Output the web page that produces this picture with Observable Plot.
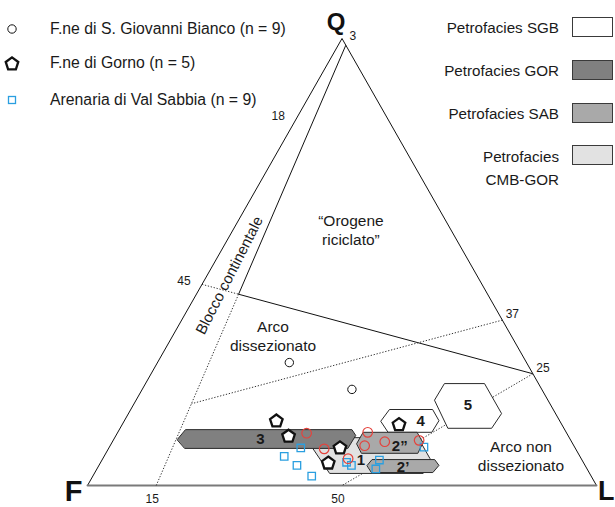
<!DOCTYPE html>
<html><head><meta charset="utf-8">
<script src="https://cdn.jsdelivr.net/npm/d3@7"></script>
<script src="https://cdn.jsdelivr.net/npm/@observablehq/plot@0.6"></script>
<style>
body{margin:0;background:#fff;font-family:"Liberation Sans",Arial,sans-serif;}
#wrap{position:relative;width:615px;height:507px;overflow:hidden;background:#fff}
#chart{position:absolute;left:0;top:0}
.lt{position:absolute;left:50px;font-size:15.8px;line-height:18px;color:#1a1a1a;white-space:nowrap}
.rt{position:absolute;right:56px;font-size:15.2px;line-height:23px;color:#1a1a1a;white-space:nowrap;text-align:right}
.box{position:absolute;left:572px;width:41px;height:20px;border:1px solid #3a3a3a;box-sizing:border-box}
#legsym{position:absolute;left:0;top:0}
</style></head>
<body><div id="wrap"><div id="chart"></div>
<svg id="legsym" width="40" height="120"></svg>
</div>
<script>
// ---- data (ternary percentages [Q, F, L]) ----
const vertices = [["Q",100,0,0],["F",0,100,0],["L",0,0,100]];

// field boundaries
const bndA = [98.5, 0, 1.5];   // continental block line, top end
const bndB = [0, 86.5, 13.5];  // continental block line, base end
const bndD = [45, 55, 0];      // arc / orogen line, F-Q end
const bndE = [25, 0, 75];      // arc / orogen line, Q-L end
const bndG = [37, 0, 63];      // dotted line from 37
const bndH = [18.3, 70.4, 11.3];
const bndI = [0, 50, 50];      // dotted line 25 -> 50

// samples
const sgbBlack = [[27.5,46.6,25.9],[21.5,37.3,41.2]];
const sgbRed = [[11.7,51.1,37.2],[8.2,49.4,42.4],[6.0,45.8,48.2],[11.9,39.0,49.1],[8.9,41.1,50.0],[9.8,36.7,53.5],[10.1,29.8,60.1]];
const gorno = [[14.4,55.7,29.9],[11.0,55.0,34.0],[8.4,46.2,45.4],[5.0,50.2,44.8],[13.6,32.0,54.4]];
const valSabbia = [[8.4,53.9,37.7],[6.5,58.1,35.4],[4.5,56.6,38.9],[2.1,54.9,43.0],[5.2,46.5,48.3],[4.5,45.9,49.6],[5.7,39.8,54.5],[3.7,41.5,54.8],[8.6,29.6,61.8]];

// petrofacies fields
const polyCMB = [[8.3,51.5,40.2],[10.7,46.0,43.3],[10.7,29.7,59.6],[6.0,29.7,64.3],[2.7,32.7,64.6],[2.7,51.0,46.3]];
const polyGOR = [[10.3,77.2,12.5],[12.5,74.5,13.0],[12.5,41.8,45.7],[11.2,41.7,47.1],[8.3,44.7,47.0],[8.3,76.7,15.0]];
const polySAB2pp = [[9.4,42.4,48.2],[11.9,39.9,48.2],[11.9,29.3,58.8],[9.6,29.3,61.1],[7.2,31.5,61.3],[7.2,42.5,50.3]];
const polySAB2p = [[4.5,42.8,52.7],[5.8,41.2,53.0],[5.8,28.9,65.3],[4.5,28.7,66.8],[2.9,30.7,66.4],[2.9,42.7,54.4]];
const polySGB4 = [[17.0,32.1,50.9],[17.0,23.7,59.3],[14.5,23.7,61.8],[11.9,26.4,61.7],[11.9,35.0,53.1],[14.3,35.2,50.5]];
const polySGB5 = [[22.8,18.4,58.8],[22.8,10.6,66.6],[16.1,10.6,73.3],[12.8,14.2,73.0],[12.8,22.8,64.4],[19.0,22.3,58.7]];

const fieldLabels = ["3","1","2”","2’","4","5"];
const fieldLabelPos = [[10.3,60.9,28.8],[5.6,43.5,50.9],[8.7,34.3,57.0],[4.0,36.0,60.0],[14.3,27.4,58.3],[17.9,16.3,65.8]];

const regionLabels = ["“Orogene\nriciclato”","Arco\ndissezionato","Arco non\ndissezionato"];
const regionPos = [[57.3,19.6,23.1],[33.5,46.8,19.7],[6.7,11.5,81.8]];
const rotLabel = "Blocco continentale";
const rotPos = [47.0,48.6,4.4];

const leftTicks = [["18",82,18,0],["45",45,55,0]];
const rightTicks = [["37",37,0,63],["25",25,0,75]];
const baseTicks = [["15",0,86.5,13.5],["50",0,50,50]];
const apexTick = [["3",98.5,0,1.5]];

const legendSamples = ["F.ne di S. Giovanni Bianco (n = 9)","F.ne di Gorno (n = 5)","Arenaria di Val Sabbia (n = 9)"];
const legendFacies = ["Petrofacies SGB","Petrofacies GOR","Petrofacies SAB","Petrofacies\nCMB-GOR"];
const faciesColors = ["#ffffff","#808080","#a9a9a9","#e2e2e2"];

// ---- helpers ----
const T = ([Q,F,L]) => ({Q,F,L});
const tx = d => d.L/100 + d.Q/200;
const ty = d => d.Q/100;
const P = a => ({x: tx(T(a)), y: ty(T(a))});
function intersect(a,b,c,d){
  const p=P(a),q=P(b),r=P(c),s=P(d);
  const den=(p.x-q.x)*(r.y-s.y)-(p.y-q.y)*(r.x-s.x);
  const t=((p.x-r.x)*(r.y-s.y)-(p.y-r.y)*(r.x-s.x))/den;
  return {x:p.x+t*(q.x-p.x), y:p.y+t*(q.y-p.y)};
}
const C = intersect(bndA,bndB,bndD,bndE);
const seg = (a,b) => ({x1:a.x,y1:a.y,x2:b.x,y2:b.y});
const solidSegs = [seg(P(bndA),C), seg(C,P(bndE))];
const dottedSegs = [seg(C,P(bndB)), seg(P(bndD),C), seg(P(bndG),P(bndH)), seg(P(bndE),P(bndI))];

const pentagon = {draw(ctx,size){
  const R = Math.sqrt(size/Math.PI);
  for(let i=0;i<5;i++){const a=-Math.PI/2+i*2*Math.PI/5;const x=R*Math.cos(a),y=R*Math.sin(a);i?ctx.lineTo(x,y):ctx.moveTo(x,y);}
  ctx.closePath();
}};

const polyMark = (poly, fill) => Plot.line(poly.map(T), {x:tx, y:ty, curve:"linear-closed", fill, stroke:"#2a2a2a", strokeWidth:1});
const ff = '"Liberation Sans", Arial, sans-serif';
const tk = (arr) => arr.map(([label,Q,F,L])=>({label,Q,F,L}));

const vt = vertices.map(([name,Q,F,L])=>({name,Q,F,L}));
const byName = n => vt.filter(d=>d.name===n);

const chart = Plot.plot({
  width:615, height:507, margin:0,
  x:{domain:[0,1], range:[87,596], axis:null},
  y:{domain:[0,1], range:[485,38], axis:null},
  style:{fontFamily:ff, background:"transparent", overflow:"visible"},
  marks:[
    Plot.line([byName("F")[0],byName("Q")[0],byName("L")[0]], {x:tx,y:ty,stroke:"#111",strokeWidth:1}),
    Plot.line([byName("F")[0],byName("L")[0]], {x:tx,y:ty,stroke:"#7a7a7a",strokeWidth:2}),
    Plot.link(solidSegs, {x1:"x1",y1:"y1",x2:"x2",y2:"y2",stroke:"#111",strokeWidth:1}),
    Plot.link(dottedSegs, {x1:"x1",y1:"y1",x2:"x2",y2:"y2",stroke:"#333",strokeWidth:1,strokeDasharray:"1.3,1.7"}),
    polyMark(polyCMB, faciesColors[3]),
    polyMark(polyGOR, faciesColors[1]),
    polyMark(polySGB4, faciesColors[0]),
    polyMark(polySAB2pp, faciesColors[2]),
    polyMark(polySAB2p, faciesColors[2]),
    polyMark(polySGB5, faciesColors[0]),
    Plot.text(fieldLabels.map((t,i)=>({t,...T(fieldLabelPos[i])})), {x:tx,y:ty,text:"t",fontSize:15,fontWeight:"bold",fill:"#1a1a1a"}),
    Plot.dot(valSabbia.map(T), {x:tx,y:ty,symbol:"square",r:4.2,stroke:"#2a9fe0",fill:"none",strokeWidth:1.3}),
    Plot.dot(sgbRed.map(T), {x:tx,y:ty,r:4.8,stroke:"#e4423c",fill:"none",strokeWidth:1.2}),
    Plot.dot(sgbBlack.map(T), {x:tx,y:ty,r:4.2,stroke:"#111",fill:"white",strokeWidth:1}),
    Plot.dot(gorno.map(T), {x:tx,y:ty,symbol:pentagon,r:6.6,stroke:"#111",fill:"white",strokeWidth:2.3}),
    Plot.text(regionLabels.map((t,i)=>({t,...T(regionPos[i])})), {x:tx,y:ty,text:"t",fontSize:15.5,lineHeight:1.22,fill:"#1a1a1a"}),
    Plot.text([{t:rotLabel,...T(rotPos)}], {x:tx,y:ty,text:"t",fontSize:15,rotate:-63,fill:"#1a1a1a"}),
    Plot.text(tk(leftTicks), {x:tx,y:ty,text:"label",fontSize:12,dx:-18,dy:-3,fill:"#1a1a1a"}),
    Plot.text(tk(rightTicks), {x:tx,y:ty,text:"label",fontSize:12,dx:10,dy:-6,fill:"#1a1a1a"}),
    Plot.text(tk(baseTicks), {x:tx,y:ty,text:"label",fontSize:12,dx:-4,dy:14,fill:"#1a1a1a"}),
    Plot.text(tk(apexTick), {x:tx,y:ty,text:"label",fontSize:12,dx:7,dy:-9,fill:"#1a1a1a"}),
    Plot.text(byName("Q"), {x:tx,y:ty,text:"name",fontSize:24,fontWeight:"bold",dx:-6,dy:-16,fill:"#111"}),
    Plot.text(byName("F"), {x:tx,y:ty,text:"name",fontSize:29,fontWeight:"bold",textAnchor:"end",dx:-5,dy:6,fill:"#111"}),
    Plot.text(byName("L"), {x:tx,y:ty,text:"name",fontSize:27,fontWeight:"bold",textAnchor:"end",dx:18,dy:6,fill:"#111"})
  ]
});
document.getElementById("chart").appendChild(chart);

// ---- legends (HTML overlay) ----
const wrap = document.getElementById("wrap");
const leftCenters = [29,63,100];
legendSamples.forEach((t,i)=>{
  const d=document.createElement("div"); d.className="lt"; d.textContent=t;
  d.style.top=(leftCenters[i]-9)+"px"; wrap.appendChild(d);
});
const sym = d3.select("#legsym");
sym.append("circle").attr("cx",12).attr("cy",29).attr("r",4.2).attr("fill","white").attr("stroke","#111");
const pent = d3.path(); pentagon.draw(pent, Math.PI*6.6*6.6);
sym.append("path").attr("d",pent.toString()).attr("transform","translate(12,64)").attr("fill","white").attr("stroke","#111").attr("stroke-width",2.3);
sym.append("rect").attr("x",8.5).attr("y",96.5).attr("width",7).attr("height",7).attr("fill","none").attr("stroke","#2a9fe0").attr("stroke-width",1.3);

const rightCenters = [27,70,113,168];
legendFacies.forEach((t,i)=>{
  const lines=t.split("\n");
  const d=document.createElement("div"); d.className="rt";
  d.innerHTML=lines.join("<br>");
  d.style.top=(rightCenters[i]-lines.length*23/2)+"px"; wrap.appendChild(d);
  const b=document.createElement("div"); b.className="box"; b.style.background=faciesColors[i];
  b.style.top=((i<3?rightCenters[i]:155)-10)+"px"; wrap.appendChild(b);
});
</script>
</body></html>
